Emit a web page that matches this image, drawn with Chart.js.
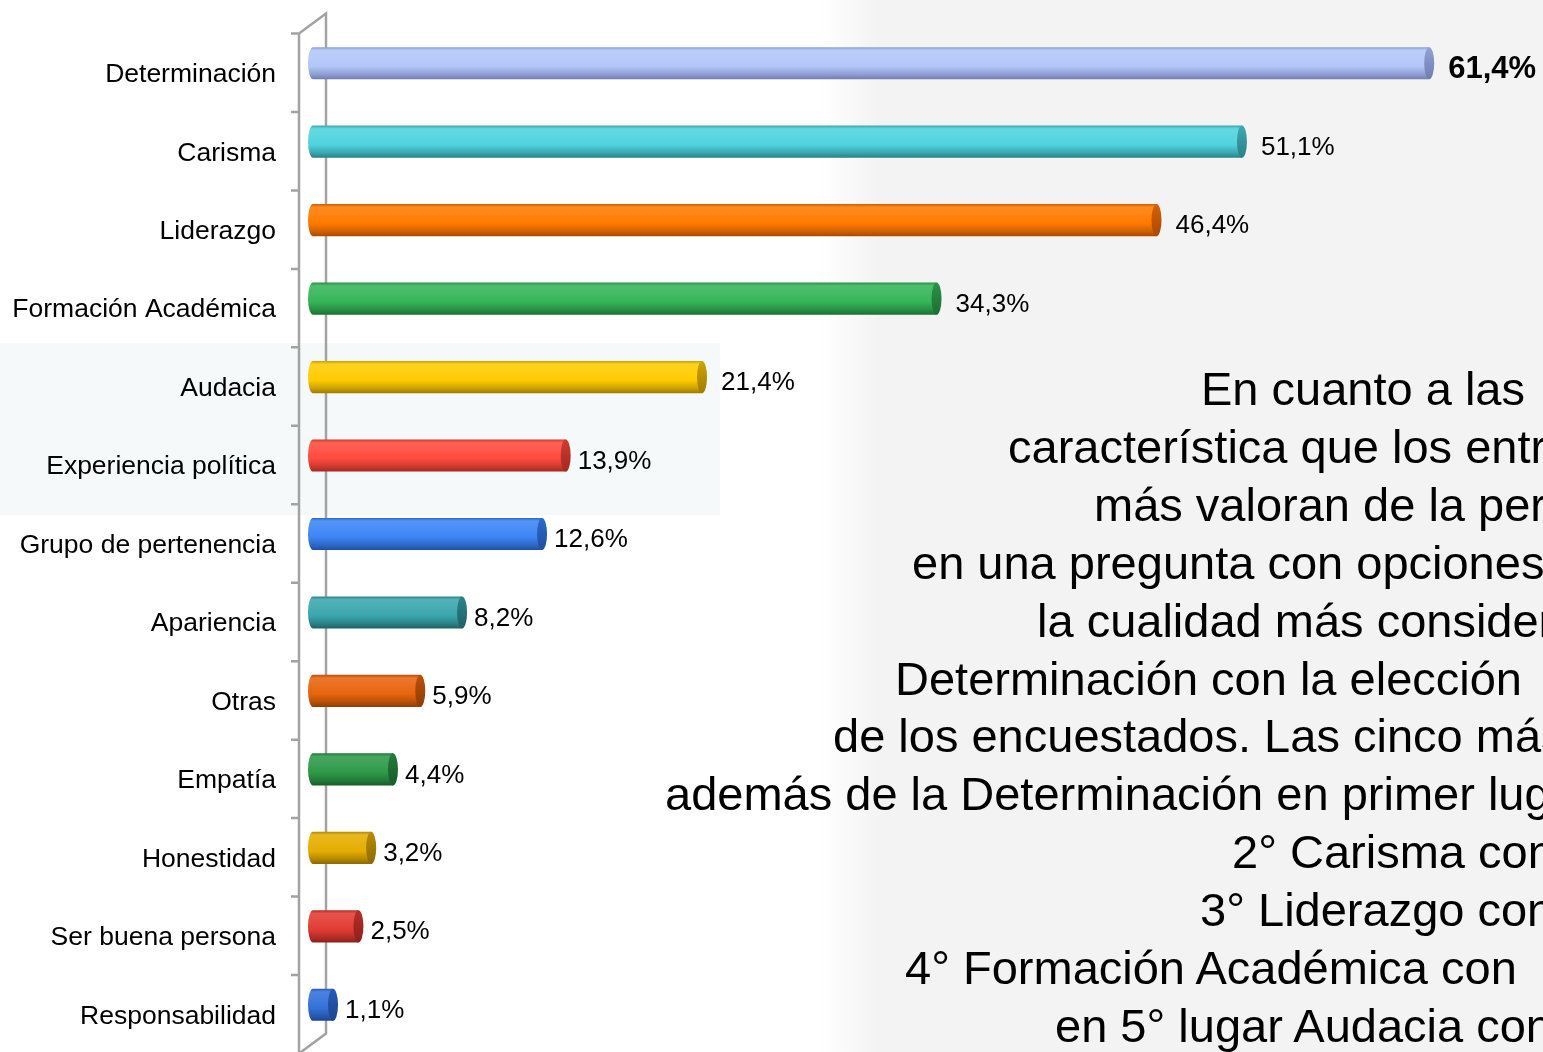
<!DOCTYPE html>
<html>
<head>
<meta charset="utf-8">
<script src="https://cdn.jsdelivr.net/npm/chart.js@4.4.1/dist/chart.umd.min.js"></script>
<style>
  html, body { margin: 0; padding: 0; background: #fff; overflow: hidden; }
  #wrap { position: relative; width: 1543px; height: 1052px; overflow: hidden; }
  #chart { position: absolute; left: 0; top: 0; }
  #note {
    position: absolute; left: 0; top: 360px; width: 1543px;
    font-family: "Liberation Sans", Arial, sans-serif; font-size: 47px;
    line-height: 57.9px; color: #000; white-space: nowrap;
  }
  #note div { position: relative; }
</style>
</head>
<body>
<div id="wrap">
  <canvas id="chart" width="1543" height="1052"></canvas>
  <div id="note"></div>
</div>
<script>
// chart data
const categories = ["Determinación", "Carisma", "Liderazgo", "Formación Académica", "Audacia",
  "Experiencia política", "Grupo de pertenencia", "Apariencia", "Otras", "Empatía",
  "Honestidad", "Ser buena persona", "Responsabilidad"];
const values = [61.4, 51.1, 46.4, 34.3, 21.4, 13.9, 12.6, 8.2, 5.9, 4.4, 3.2, 2.5, 1.1];
const valueLabels = ["61,4%", "51,1%", "46,4%", "34,3%", "21,4%", "13,9%", "12,6%",
  "8,2%", "5,9%", "4,4%", "3,2%", "2,5%", "1,1%"];
const barColors = ["#b2c6f8", "#4fd3de", "#ff7a00", "#36b55a", "#ffcc00", "#ff4b3e", "#3d85f5",
  "#3aa7ae", "#e8640e", "#2e9a48", "#e6ad00", "#e23b33", "#3571da"];
const barShades = ["#6f7eb0", "#2b7f86", "#a84a00", "#1d6e35", "#a07c00", "#a02a22", "#1f4fa0",
  "#1e6166", "#8e3c06", "#185c2a", "#8c6a00", "#8c201c", "#1b4590"];

// text block on the right (cut by the picture edge)
const noteLines = ["En cuanto a las", "característica que los entrevistados", "más valoran de la persona",
  "en una pregunta con opciones", "la cualidad más considerada", "Determinación con la elección",
  "de los encuestados. Las cinco más", "además de la Determinación en primer lugar",
  "2° Carisma con", "3° Liderazgo con", "4° Formación Académica con", "en 5° lugar Audacia con"];
const noteIndent = [1201, 1008, 1094, 912, 1037, 895, 833, 665, 1232, 1200, 905, 1055];

const note = document.getElementById("note");
noteLines.forEach((t, i) => {
  const d = document.createElement("div");
  d.style.left = noteIndent[i] + "px";
  d.textContent = t;
  note.appendChild(d);
});

const hexToRgb = (h) => [1, 3, 5].map(i => parseInt(h.substr(i, 2), 16));
const mix = (a, b, t) => {
  const A = hexToRgb(a), B = hexToRgb(b);
  return "rgb(" + A.map((v, i) => Math.round(v + (B[i] - v) * t)).join(",") + ")";
};

const FRAME_SHIFT = 9.5; // frame and labels sit a bit below the bars (3D look)

const backdrop = {
  id: "backdrop",
  beforeDraw(chart) {
    const ctx = chart.ctx;
    ctx.save();
    ctx.fillStyle = "#ffffff";
    ctx.fillRect(0, 0, chart.width, chart.height);
    const g = ctx.createLinearGradient(820, 0, 880, 0);
    g.addColorStop(0, "rgba(243,243,243,0)");
    g.addColorStop(1, "rgba(243,243,243,1)");
    ctx.fillStyle = g;
    ctx.fillRect(820, 0, chart.width - 820, chart.height);
    ctx.fillStyle = "rgba(238,243,243,0.5)";
    ctx.fillRect(0, 343, 720, 172);
    ctx.restore();
  },
  beforeDatasetsDraw(chart) {
    const ctx = chart.ctx, y = chart.scales.y;
    const step = (y.bottom - y.top) / categories.length;
    const top = y.top + FRAME_SHIFT, bottom = y.bottom + FRAME_SHIFT;
    const fx = 299, bx = 326, dy = 20;
    ctx.save();
    ctx.strokeStyle = "#a3a3a3";
    ctx.lineWidth = 2.5;
    ctx.beginPath();
    ctx.moveTo(fx, top); ctx.lineTo(fx, bottom + 2);
    ctx.moveTo(fx, top); ctx.lineTo(bx, top - dy); ctx.lineTo(bx, bottom - dy);
    ctx.lineTo(fx, bottom);
    for (let j = 0; j <= categories.length; j++) {
      const yy = top + j * step;
      ctx.moveTo(fx - 8, yy); ctx.lineTo(fx, yy);
    }
    ctx.stroke();
    ctx.restore();
  },
  afterDatasetsDraw(chart) {
    const ctx = chart.ctx;
    const meta = chart.getDatasetMeta(0);
    const rx = 5;
    ctx.save();
    meta.data.forEach((el, i) => {
      const h = el.height, y0 = el.y - h / 2, y1 = el.y + h / 2;
      const base = barColors[i], dark = barShades[i];
      const g = ctx.createLinearGradient(0, y0, 0, y1);
      g.addColorStop(0, mix(base, dark, 0.55));
      g.addColorStop(0.1, mix(base, "#ffffff", 0.12));
      g.addColorStop(0.3, mix(base, "#ffffff", 0.08));
      g.addColorStop(0.6, base);
      g.addColorStop(0.85, mix(base, dark, 0.55));
      g.addColorStop(1, dark);
      ctx.fillStyle = g;
      ctx.beginPath();
      ctx.ellipse(el.base, el.y, rx, h / 2, 0, Math.PI / 2, Math.PI * 1.5);
      ctx.lineTo(el.x, y0);
      ctx.lineTo(el.x, y1);
      ctx.closePath();
      ctx.fill();
      const cg = ctx.createLinearGradient(0, y0, 0, y1);
      cg.addColorStop(0, mix(base, dark, 0.5));
      cg.addColorStop(1, dark);
      ctx.fillStyle = cg;
      ctx.beginPath();
      ctx.ellipse(el.x, el.y, rx, h / 2, 0, 0, Math.PI * 2);
      ctx.fill();

      ctx.fillStyle = "#000";
      ctx.textBaseline = "middle";
      ctx.textAlign = "left";
      ctx.font = i === 0 ? "bold 31px 'Liberation Sans', Arial" : "26px 'Liberation Sans', Arial";
      const gap = values[i] >= 20 ? 14 : 7;
      ctx.fillText(valueLabels[i], el.x + rx + gap, el.y + 6);
    });
    ctx.restore();
  }
};

new Chart("chart", {
  type: "bar",
  data: {
    labels: categories,
    datasets: [{
      label: "Características",
      data: values,
      backgroundColor: "rgba(0,0,0,0)",
      borderWidth: 0,
      barPercentage: 0.41,
      categoryPercentage: 1
    }]
  },
  options: {
    indexAxis: "y",
    responsive: false,
    animation: false,
    layout: { padding: { top: 24, bottom: 8, left: 0, right: 0 } },
    plugins: { legend: { display: false }, tooltip: { enabled: false } },
    scales: {
      x: { display: false, min: 0, max: 67.66 },
      y: {
        grid: { display: false, drawTicks: false },
        border: { display: false },
        afterFit: (scale) => {
          scale.width = 313;
          scale.paddingTop = 0;
          scale.paddingBottom = 0;
        },
        ticks: {
          autoSkip: false,
          padding: 37,
          labelOffset: 11.5,
          color: "#000",
          font: { family: "'Liberation Sans', Arial", size: 26.5 }
        }
      }
    }
  },
  plugins: [backdrop]
});
</script>
</body>
</html>
